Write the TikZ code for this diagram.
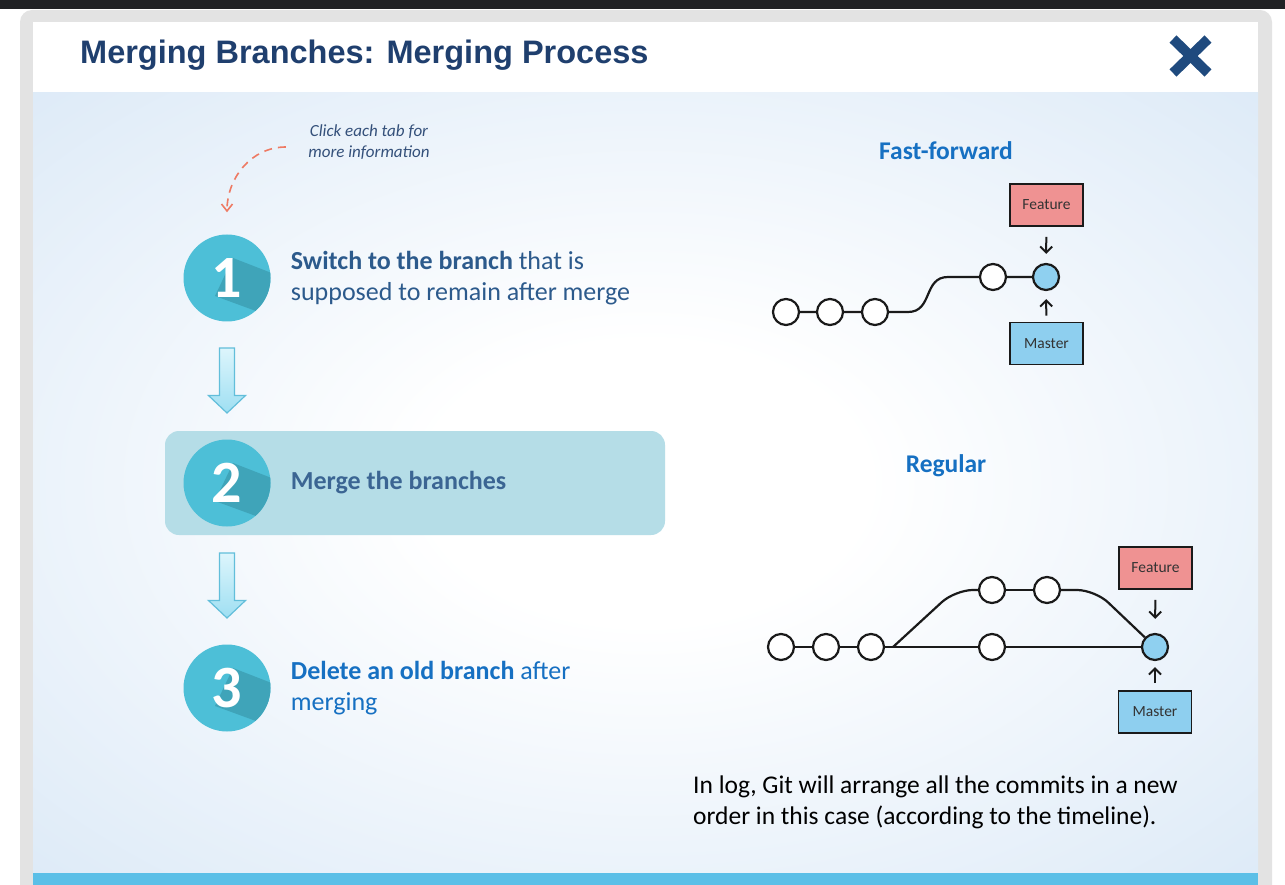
\documentclass[tikz,border=0pt]{standalone}
\usepackage{fontspec}
\setmainfont{Carlito}
\newfontfamily\headfont{Liberation Sans}
\usetikzlibrary{arrows.meta,positioning,calc}
\definecolor{navy}{HTML}{1F3F6E}
\definecolor{xnavy}{HTML}{1F4A7E}
\definecolor{frame}{HTML}{E3E3E3}
\definecolor{topbar}{HTML}{202124}
\definecolor{bgblue}{HTML}{D3E4F5}
\definecolor{barblue}{HTML}{5BBFE7}
\definecolor{teal}{HTML}{4DBFD7}
\definecolor{tealdk}{HTML}{3FA4B9}
\definecolor{hilite}{HTML}{B5DDE7}
\definecolor{stepink}{HTML}{2C5A8C}
\definecolor{stepink2}{HTML}{3B6593}
\definecolor{linkblue}{HTML}{1670C2}
\definecolor{hintred}{HTML}{EE7A63}
\definecolor{hintink}{HTML}{34507A}
\definecolor{arrtop}{HTML}{DDF5FC}
\definecolor{arrbot}{HTML}{9EDFF2}
\definecolor{arredge}{HTML}{62BEDA}
\definecolor{featred}{HTML}{EF9292}
\definecolor{mastblue}{HTML}{8ECFEF}
\definecolor{headblue}{HTML}{8FD0F0}
\definecolor{gitink}{HTML}{1A1A1A}
\pgfdeclareradialshading{panel}{\pgfpoint{0bp}{0bp}}{color(0bp)=(white); color(9bp)=(white); color(44bp)=(bgblue); color(50bp)=(bgblue)}
\tikzset{
  stepcirc/.style = {circle, fill=teal, minimum size=87, inner sep=0pt, text=white,
                     font=\fontsize{60}{60}\selectfont\bfseries,
                     path picture={\fill[tealdk] ($(path picture bounding box.center)+(6,-20)$) -- ++(90,35)
                       -- ++(-18,36) -- ($(path picture bounding box.center)+(-12,18)$) -- cycle;}},
  hlbox/.style    = {rectangle, rounded corners=14pt, fill=hilite, minimum width=500, minimum height=104},
  steptxt/.style  = {align=left, font=\fontsize{26}{31}\selectfont, text=stepink, inner sep=0pt},
  sect/.style     = {font=\fontsize{25.5}{25.5}\selectfont\bfseries, text=linkblue},
  commit/.style   = {circle, draw=gitink, line width=2.2pt, fill=white, minimum size=26, inner sep=0pt},
  headcommit/.style={commit, fill=headblue},
  refbox/.style   = {rectangle, draw=gitink, line width=1.6pt, minimum width=73, minimum height=42,
                     font=\fontsize{15.5}{15.5}\selectfont, text=black!80},
  gitline/.style  = {draw=gitink, line width=2.2pt},
  ptr/.style      = {-{Straight Barb[length=6pt,width=12pt]}, line width=2pt, draw=gitink,
                     shorten <=9pt, shorten >=9pt},
  hint/.style     = {-{Straight Barb[length=7pt,width=11pt]}, draw=hintred, line width=1.6pt,
                     dash pattern=on 8pt off 6pt},
  downarr/.pic    = {\path[top color=arrtop, bottom color=arrbot, draw=arredge, line width=1.2pt]
                     (-7.5,-32.5) -- (7.5,-32.5) -- (7.5,15) -- (18.5,15) -- (0,32.5)
                     -- (-18.5,15) -- (-7.5,15) -- cycle;},
}
\begin{document}
\begin{tikzpicture}[x=1pt,y=-1pt]
\useasboundingbox (0,0) rectangle (1285,885);
% window
\fill[white] (0,0) rectangle (1285,885);
\fill[topbar] (0,0) rectangle (1285,9);
\fill[frame] (20,885) {[rounded corners=12pt] -- (20,10) -- (1272,10)} -- (1272,885) -- cycle;
\fill[white] (33,22) rectangle (1258,93);
\shade[shading=panel] (33,93) rectangle (1258,873);
\fill[barblue] (33,873) rectangle (1258,885);
% header
\node[anchor=west, inner sep=0pt, text=navy, font=\headfont\fontsize{32.5}{32.5}\selectfont\bfseries] (title) at (80,55) {Merging Branches: Merging Process};
\draw[xnavy, line width=10pt] (1173,39) -- (1208,73) (1173,73) -- (1208,39);
% steps
\node[hlbox] (hl) at (415,483) {};
\node[stepcirc] (s1) at (227,278) {1};
\node[stepcirc] (s2) at (227,483) {2};
\node[stepcirc] (s3) at (227,688) {3};
\node[steptxt, right=20pt of s1] (t1) {\textbf{Switch to the branch} that is\\supposed to remain after merge};
\node[steptxt, right=20pt of s2, text=stepink2] (t2) {\textbf{Merge the branches}};
\node[steptxt, right=20pt of s3, text=linkblue] (t3) {\textbf{Delete an old branch} after\\merging};
\pic at ($(s1)!0.5!(s2)$) {downarr};
\pic at ($(s2)!0.5!(s3)$) {downarr};
% hint
\node[align=center, text=hintink, font=\fontsize{17}{21}\selectfont\itshape] (click) at (369,142) {Click each tab for\\more information};
\draw[hint] ([xshift=-19pt,yshift=-5pt]click.west) to[out=180,in=90] ([yshift=22pt]s1.north);
% fast-forward
\node[sect] (ff) at (946,151) {Fast-forward};
\node[commit] (c1) at (786,312) {};
\node[commit] (c2) at (830,312) {};
\node[commit] (c3) at (875,312) {};
\node[commit] (c4) at (993,277) {};
\node[headcommit] (c5) at (1046,277) {};
\coordinate (ffa) at (908,312);
\coordinate (ffb) at (948,277);
\draw[gitline] (c1) -- (c2) -- (c3) -- (ffa) .. controls +(25,0) and +(-25,0) .. (ffb) -- (c4) -- (c5);
\node[refbox, fill=featred] (ffeat) at (1046.5,205) {Feature};
\node[refbox, fill=mastblue] (fmast) at (1046.5,343.5) {Master};
\draw[ptr, shorten <=10pt] (ffeat) -- (c5);
\draw[ptr, shorten <=6pt, shorten >=8pt] (fmast) -- (c5);
% regular
\node[sect] (reg) at (946,466) {Regular};
\node[commit] (r1) at (781,647) {};
\node[commit] (r2) at (826,647) {};
\node[commit] (r3) at (871,647) {};
\node[commit] (r4) at (992,647) {};
\node[commit] (u1) at (992,590) {};
\node[commit] (u2) at (1047,590) {};
\node[headcommit] (rh) at (1155,647) {};
\coordinate (rb) at (893,647);
\draw[gitline] (r1) -- (r2) -- (r3) -- (r4) -- (rh);
\draw[gitline, rounded corners=18pt] (rb) -- (955,590) -- (u1);
\draw[gitline] (u1) -- (u2);
\draw[gitline, rounded corners=18pt] (u2) -- (1095,590) -- (rh);
\node[refbox, fill=featred] (rfeat) at (1155.5,568) {Feature};
\node[refbox, fill=mastblue] (rmast) at (1155,712) {Master};
\draw[ptr, shorten <=10pt, shorten >=14pt] (rfeat) -- (rh);
\draw[ptr, shorten <=7pt, shorten >=6pt] (rmast) -- (rh);
% note
\node[anchor=north west, align=left, inner sep=0pt, font=\fontsize{25.5}{31}\selectfont] (note) at (693,776) {In log, Git will arrange all the commits in a new\\order in this case (according to the timeline).};
\end{tikzpicture}
\end{document}
